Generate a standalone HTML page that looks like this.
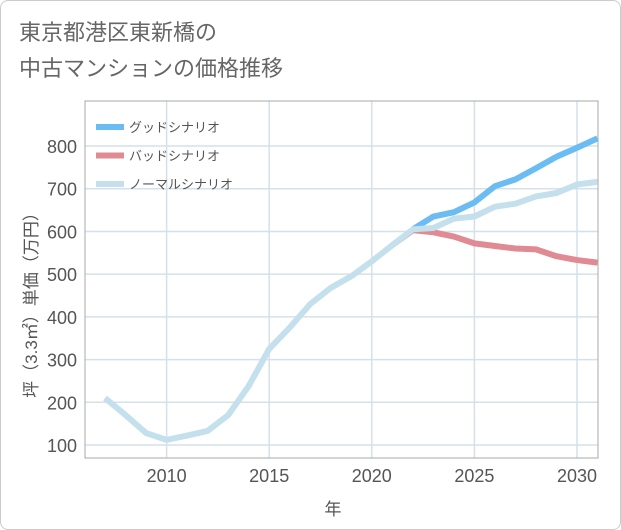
<!DOCTYPE html>
<html><head><meta charset="utf-8"><style>
body{margin:0;background:#fff;font-family:"Liberation Sans","Noto Sans CJK JP",sans-serif;}
#wrap{position:relative;width:619px;height:528px;border:1px solid #ccc;border-radius:8px;background:#fff;overflow:hidden}
#title{position:absolute;left:18px;top:14px;font-size:22px;line-height:36px;color:#666;}
</style></head><body>
<div id="wrap">
<div id="title">東京都港区東新橋の<br>中古マンションの価格推移</div>
<svg id="chart" width="621" height="530" style="position:absolute;left:0;top:0"></svg>
</div>
<script>
const years=[2007,2008,2009,2010,2011,2012,2013,2014,2015,2016,2017,2018,2019,2020,2021,2022,2023,2024,2025,2026,2027,2028,2029,2030,2031];
const normalVals=[210,170,128,112,122,133,170,238,325,375,430,468,495,530,568,605,608,630,635,658,665,682,690,710,716];
const goodYears=[2022,2023,2024,2025,2026,2027,2028,2029,2030,2031];
const goodVals=[605,635,645,668,706,722,748,775,796,818];
const badYears=[2021,2022,2023,2024,2025,2026,2027,2028,2029,2030,2031];
const badVals=[568,603,598,588,572,566,560,558,542,533,527];
const xTicks=[2010,2015,2020,2025,2030];
const yTicks=[100,200,300,400,500,600,700,800];
const L=84,R=597,T=100,B=457;
const x=v=>576+(v-2030)*20.52;
const y=v=>444-(v-100)*0.4271;
const svg=document.getElementById('chart');
const NS='http://www.w3.org/2000/svg';
function mk(t,a){const e=document.createElementNS(NS,t);for(const k in a)e.setAttribute(k,a[k]);svg.appendChild(e);return e;}
yTicks.forEach(v=>{
 const g=mk('line',{x1:L,x2:R,y1:y(v),y2:y(v),stroke:'#d5e0ea','stroke-width':1.5});
 
 
 const t=mk('text',{x:76,y:y(v)+7,'text-anchor':'end','font-size':18,fill:'#555'});t.textContent=v;
 
 
});
xTicks.forEach(v=>{
 const g=mk('line',{x1:x(v),x2:x(v),y1:T,y2:B,stroke:'#d5e0ea','stroke-width':1.5});
 
 
 const t=mk('text',{x:x(v),y:481,'text-anchor':'middle','font-size':18,fill:'#555'});t.textContent=v;
 
 
});
const fr=mk('rect',{x:L,y:T,width:R-L,height:B-T,fill:'none',stroke:'#aaa','stroke-width':1});


function line(xs,vs,c,name){
 const p=mk('polyline',{points:xs.map((v,i)=>x(v)+','+y(vs[i])).join(' '),fill:'none',stroke:c,'stroke-width':6,'stroke-linejoin':'round'});
 
 
}
line(badYears,badVals,'#e08a93','bad-scenario-line');
line(goodYears,goodVals,'#6bbcf2','good-scenario-line');
line(years,normalVals,'#c3e0ec','normal-scenario-line');
const leg=[['グッドシナリオ','#6bbcf2'],['バッドシナリオ','#e08a93'],['ノーマルシナリオ','#c3e0ec']];
leg.forEach((l,i)=>{
 const yy=126+i*28.5;
 const s=mk('line',{x1:95,x2:123,y1:yy,y2:yy,stroke:l[1],'stroke-width':6});
 
 
 const t=mk('text',{x:128,y:yy+5,'font-size':13,fill:'#555'});t.textContent=l[0];
 
 
});
const xt=mk('text',{x:332,y:514,'text-anchor':'middle','font-size':17,fill:'#555'});xt.textContent='年';


const yt=mk('text',{x:0,y:0,'text-anchor':'middle','font-size':17,fill:'#555',transform:'translate(36,300) rotate(-90)'});yt.textContent='坪（3.3㎡）単価（万円）';


</script>
</body></html>
